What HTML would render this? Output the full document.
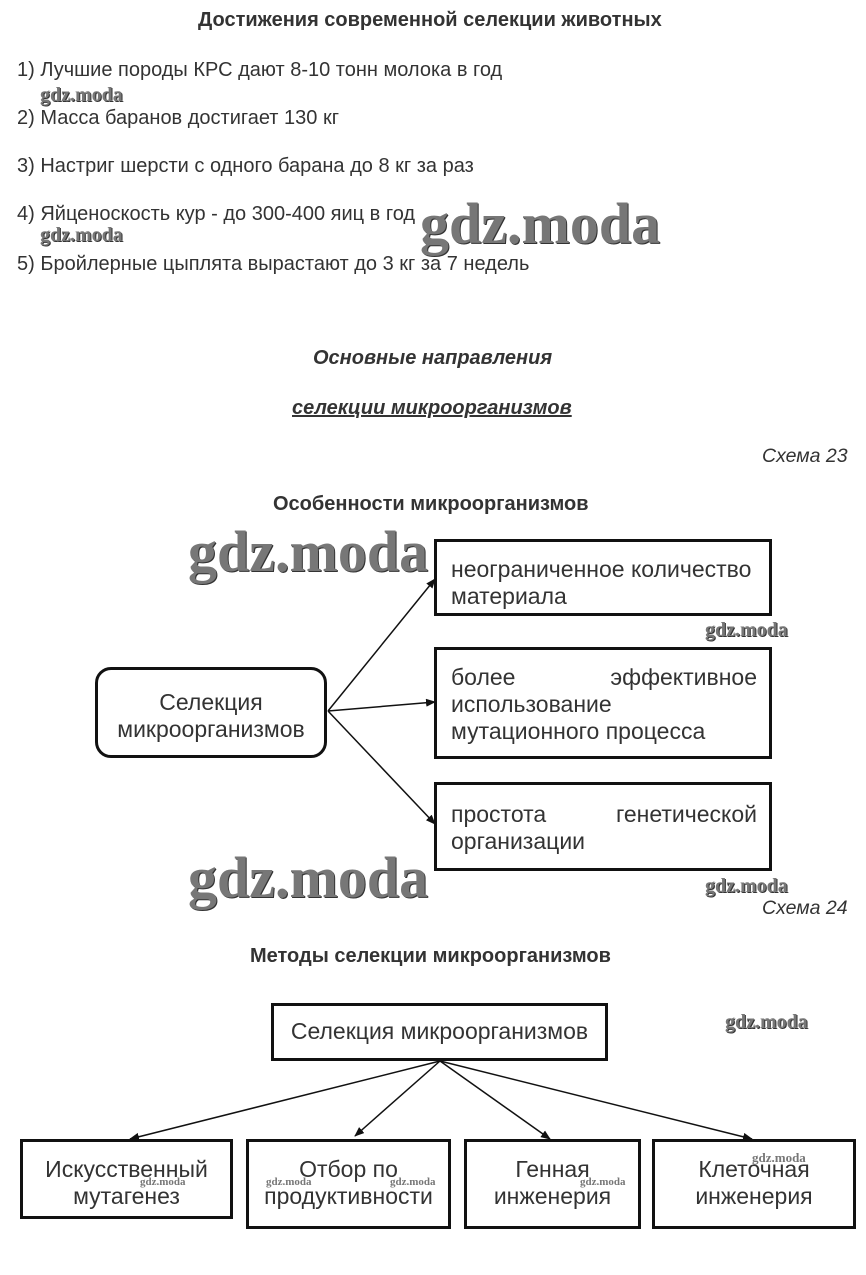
<!DOCTYPE html>
<html><head><meta charset="utf-8"><style>
body{margin:0;width:866px;height:1275px;background:#fff;position:relative;font-family:"Liberation Sans",sans-serif;color:#333;overflow:hidden}
.a{position:absolute;white-space:nowrap}
.t{font-size:20px;color:#333}
.b{font-weight:bold}
.wm{position:absolute;font-family:"Liberation Serif",serif;font-weight:bold;color:#777;white-space:nowrap;text-shadow:1px 1px 0 #333}
.box{position:absolute;border:3px solid #111;box-sizing:border-box;font-size:23px;color:#333;line-height:27px}
.j{display:flex;justify-content:space-between}
</style></head><body>
<div class="a b" style="left:198px;top:9px;font-size:20px">Достижения современной селекции животных</div>
<div class="a t" style="left:17px;top:59px">1) Лучшие породы КРС дают 8-10 тонн молока в год</div>
<div class="a t" style="left:17px;top:107px">2) Масса баранов достигает 130 кг</div>
<div class="a t" style="left:17px;top:155px">3) Настриг шерсти с одного барана до 8 кг за раз</div>
<div class="a t" style="left:17px;top:203px">4) Яйценоскость кур - до 300-400 яиц в год</div>
<div class="a t" style="left:17px;top:253px">5) Бройлерные цыплята вырастают до 3 кг за 7 недель</div>
<div class="wm" style="left:40px;top:84px;font-size:20px">gdz.moda</div>
<div class="wm" style="left:40px;top:224px;font-size:20px">gdz.moda</div>
<div class="wm" style="left:420px;top:190px;font-size:58px">gdz.moda</div>
<div class="a b" style="left:313px;top:347px;font-size:20px;font-style:italic">Основные направления</div>
<div class="a b" style="left:292px;top:397px;font-size:20px;font-style:italic;text-decoration:underline">селекции микроорганизмов</div>
<div class="a" style="left:762px;top:445px;font-size:19.5px;font-style:italic">Схема 23</div>
<div class="a b" style="left:273px;top:493px;font-size:20px">Особенности микроорганизмов</div>
<div class="wm" style="left:188px;top:518px;font-size:58px">gdz.moda</div>
<div class="box" style="left:95px;top:667px;width:232px;height:91px;border-radius:16px;text-align:center;padding-top:19px">Селекция<br>микроорганизмов</div>
<div class="box" style="left:434px;top:539px;width:338px;height:77px;padding:14px 12px 0 14px;overflow:hidden">неограниченное количество<br>материала</div>
<div class="box" style="left:434px;top:647px;width:338px;height:112px;padding:14px 12px 0 14px"><div class="j"><span>более</span><span>эффективное</span></div>использование<br>мутационного процесса</div>
<div class="box" style="left:434px;top:782px;width:338px;height:89px;padding:16px 12px 0 14px"><div class="j"><span>простота</span><span>генетической</span></div>организации</div>
<div class="wm" style="left:705px;top:619px;font-size:20px">gdz.moda</div>
<div class="wm" style="left:188px;top:844px;font-size:58px">gdz.moda</div>
<div class="wm" style="left:705px;top:875px;font-size:20px">gdz.moda</div>
<div class="a" style="left:762px;top:897px;font-size:19.5px;font-style:italic">Схема 24</div>
<div class="a b" style="left:250px;top:945px;font-size:20px">Методы селекции микроорганизмов</div>
<div class="box" style="left:271px;top:1003px;width:337px;height:58px;text-align:center;padding-top:12px">Селекция микроорганизмов</div>
<div class="wm" style="left:725px;top:1011px;font-size:20px">gdz.moda</div>
<div class="box" style="left:20px;top:1139px;width:213px;height:80px;text-align:center;padding-top:14px">Искусственный<br>мутагенез</div>
<div class="box" style="left:246px;top:1139px;width:205px;height:90px;text-align:center;padding-top:14px">Отбор по<br>продуктивности</div>
<div class="box" style="left:464px;top:1139px;width:177px;height:90px;text-align:center;padding-top:14px">Генная<br>инженерия</div>
<div class="box" style="left:652px;top:1139px;width:204px;height:90px;text-align:center;padding-top:14px">Клеточная<br>инженерия</div>
<div class="wm" style="left:140px;top:1176px;font-size:11px;text-shadow:none">gdz.moda</div>
<div class="wm" style="left:266px;top:1176px;font-size:11px;text-shadow:none">gdz.moda</div>
<div class="wm" style="left:390px;top:1176px;font-size:11px;text-shadow:none">gdz.moda</div>
<div class="wm" style="left:580px;top:1176px;font-size:11px;text-shadow:none">gdz.moda</div>
<div class="wm" style="left:752px;top:1150px;font-size:13px;text-shadow:none">gdz.moda</div>
<svg width="866" height="1275" style="position:absolute;left:0;top:0" xmlns="http://www.w3.org/2000/svg">
<defs><marker id="m" markerWidth="10" markerHeight="8" refX="9" refY="4" orient="auto" markerUnits="userSpaceOnUse"><path d="M0,0 L10,4 L0,8 Z" fill="#111"/></marker></defs>
<g stroke="#111" stroke-width="1.5" fill="none" marker-end="url(#m)">
<line x1="328" y1="711" x2="435" y2="579"/>
<line x1="328" y1="711" x2="435" y2="702"/>
<line x1="328" y1="711" x2="435" y2="824"/>
<line x1="440" y1="1061" x2="130" y2="1139"/>
<line x1="440" y1="1061" x2="355" y2="1136"/>
<line x1="440" y1="1061" x2="550" y2="1139"/>
<line x1="440" y1="1061" x2="752" y2="1139"/>
</g></svg>
</body></html>
